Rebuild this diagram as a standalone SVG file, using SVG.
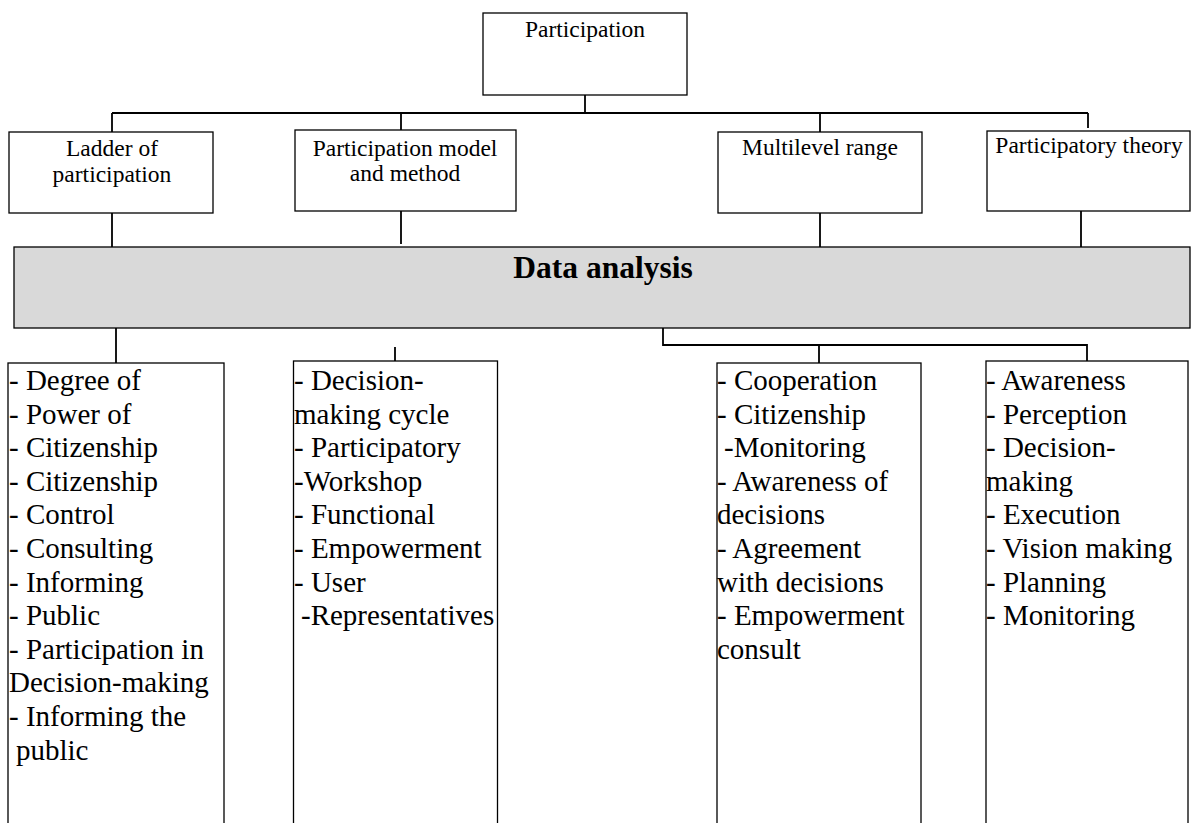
<svg xmlns="http://www.w3.org/2000/svg" width="1192" height="823" viewBox="0 0 1192 823">
<style>
.box{fill:#fff;stroke:#000;stroke-width:1.3}
.gray{fill:#d9d9d9;stroke:#000;stroke-width:1.3}
.ln{fill:none;stroke:#000;stroke-width:1.8}
.t{font-family:"Liberation Serif","Times New Roman",serif;fill:#000}
.h{font-size:23.5px;text-anchor:middle}
.b{font-size:29px}
.da{font-size:31.5px;font-weight:bold;text-anchor:middle}
</style>
<rect width="1192" height="823" fill="#fff"/>
<g id="connectors">
<path class="ln" d="M585 95V113M112 113H1088M112 113V132M401 113V130M820 113V132M1088 113V128"/>
<path class="ln" d="M112 213V247M401 211V244M820 213V247M1081 211V247"/>
<path class="ln" d="M116 363V325.5H663V345H1087V361M819 345V363M395 347V361"/>
</g>
<g id="participation"><rect class="box" x="483" y="13" width="204" height="82"/><text class="t h" x="585" y="37">Participation</text></g>
<g id="ladder"><rect class="box" x="9" y="132" width="204" height="81"/><text class="t h" x="112" y="156">Ladder of</text><text class="t h" x="112" y="182">participation</text></g>
<g id="model"><rect class="box" x="295" y="130" width="221" height="81"/><text class="t h" x="405" y="156">Participation model</text><text class="t h" x="405" y="181">and method</text></g>
<g id="multilevel"><rect class="box" x="718" y="132" width="204" height="81"/><text class="t h" x="820" y="155">Multilevel range</text></g>
<g id="theory"><rect class="box" x="987" y="131" width="203" height="80"/><text class="t h" x="1089" y="153">Participatory theory</text></g>
<g id="data-analysis"><rect class="gray" x="14" y="247" width="1176" height="81"/><text class="t da" x="603" y="278">Data analysis</text></g>
<g id="list-ladder"><rect class="box" x="8" y="363" width="216" height="480"/>
<text class="t b" x="9" y="390">- Degree of</text>
<text class="t b" x="9" y="423.6">- Power of</text>
<text class="t b" x="9" y="457.2">- Citizenship</text>
<text class="t b" x="9" y="490.8">- Citizenship</text>
<text class="t b" x="9" y="524.4">- Control</text>
<text class="t b" x="9" y="558">- Consulting</text>
<text class="t b" x="9" y="591.6">- Informing</text>
<text class="t b" x="9" y="625.2">- Public</text>
<text class="t b" x="9" y="658.8">- Participation in</text>
<text class="t b" x="9" y="692.4">Decision-making</text>
<text class="t b" x="9" y="726">- Informing the</text>
<text class="t b" x="16" y="759.6">public</text>
</g>
<g id="list-model"><rect class="box" x="293.5" y="361" width="204" height="480"/>
<text class="t b" x="294" y="390">- Decision-</text>
<text class="t b" x="294" y="423.6">making cycle</text>
<text class="t b" x="294" y="457.2">- Participatory</text>
<text class="t b" x="294" y="490.8">-Workshop</text>
<text class="t b" x="294" y="524.4">- Functional</text>
<text class="t b" x="294" y="558">- Empowerment</text>
<text class="t b" x="294" y="591.6">- User</text>
<text class="t b" x="301" y="625.2">-Representatives</text>
</g>
<g id="list-multilevel"><rect class="box" x="717" y="363" width="204" height="480"/>
<text class="t b" x="717" y="390">- Cooperation</text>
<text class="t b" x="717" y="423.6">- Citizenship</text>
<text class="t b" x="724" y="457.2">-Monitoring</text>
<text class="t b" x="717" y="490.8">- Awareness of</text>
<text class="t b" x="717" y="524.4">decisions</text>
<text class="t b" x="717" y="558">- Agreement</text>
<text class="t b" x="717" y="591.6">with decisions</text>
<text class="t b" x="717" y="625.2">- Empowerment</text>
<text class="t b" x="717" y="658.8">consult</text>
</g>
<g id="list-theory"><rect class="box" x="986" y="361" width="202" height="480"/>
<text class="t b" x="986" y="390">- Awareness</text>
<text class="t b" x="986" y="423.6">- Perception</text>
<text class="t b" x="986" y="457.2">- Decision-</text>
<text class="t b" x="986" y="490.8">making</text>
<text class="t b" x="986" y="524.4">- Execution</text>
<text class="t b" x="986" y="558">- Vision making</text>
<text class="t b" x="986" y="591.6">- Planning</text>
<text class="t b" x="986" y="625.2">- Monitoring</text>
</g>
</svg>
